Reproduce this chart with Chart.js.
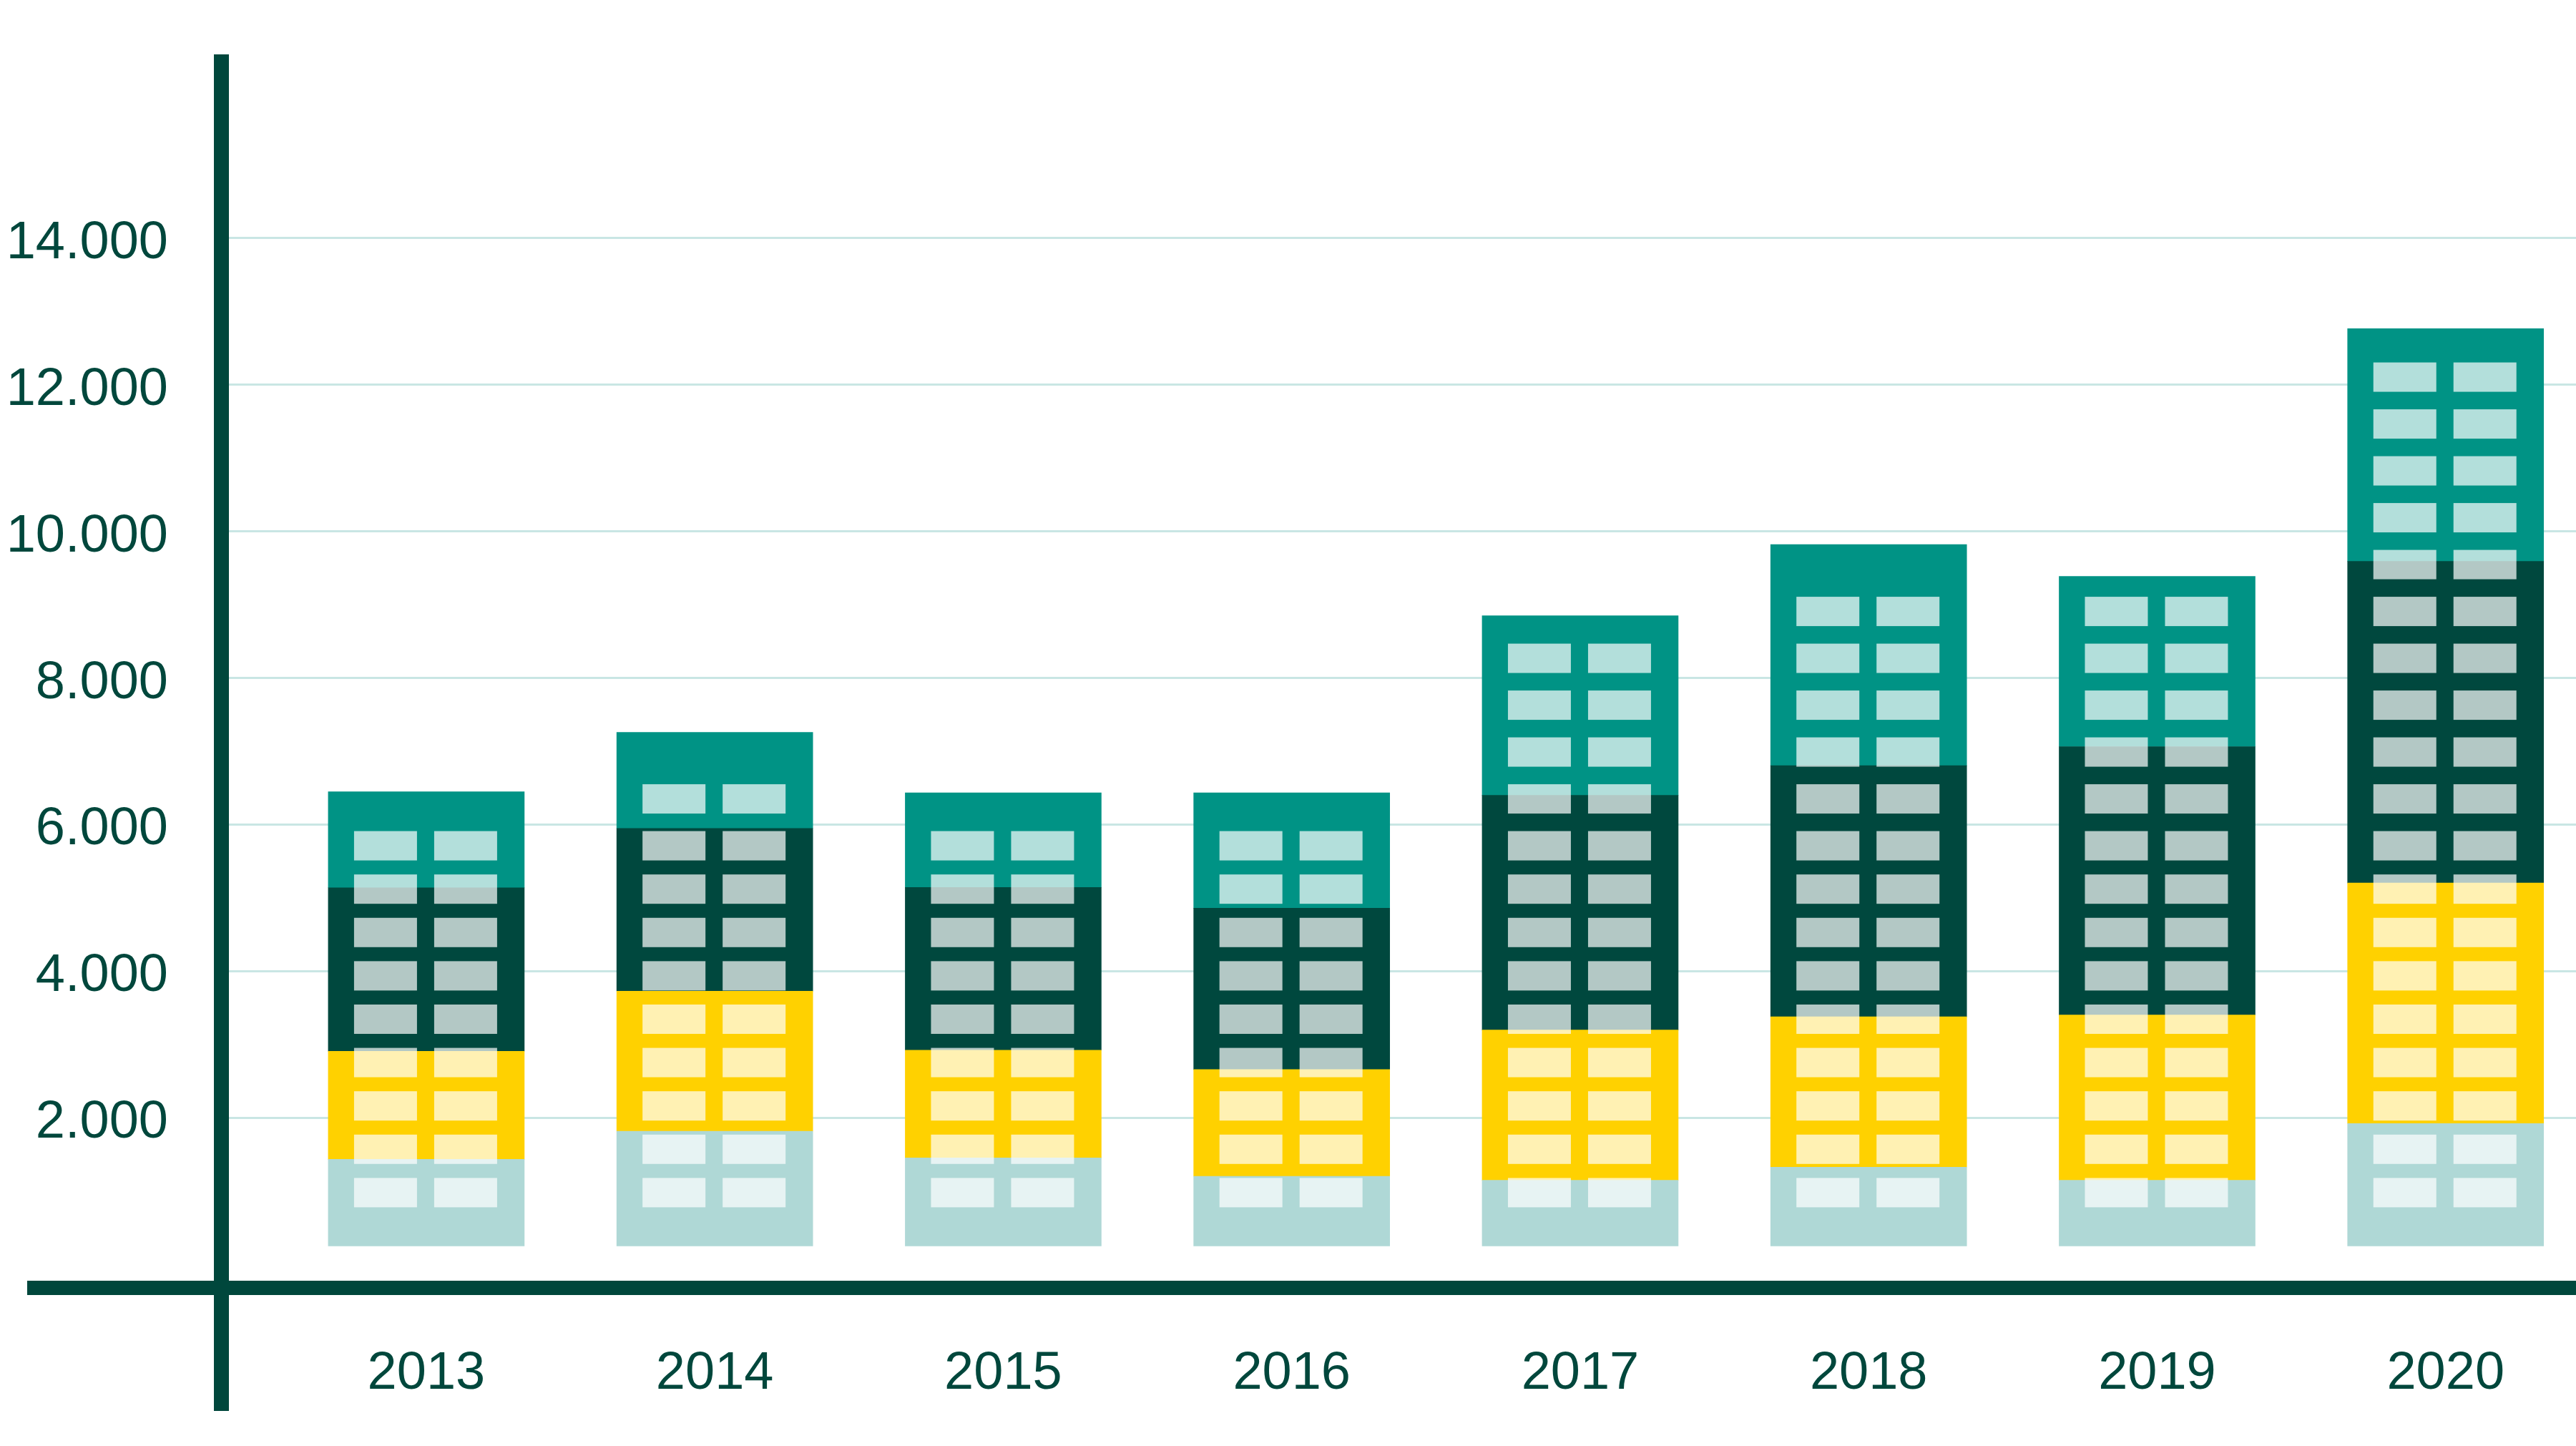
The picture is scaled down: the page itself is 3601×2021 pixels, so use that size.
<!DOCTYPE html>
<html>
<head>
<meta charset="utf-8">
<script src="https://cdn.jsdelivr.net/npm/chart.js@4.4.1/dist/chart.umd.min.js"></script>
<style>
  html, body { margin: 0; padding: 0; background: #ffffff; }
  #wrap { width: 3601px; height: 2021px; position: relative; }
</style>
</head>
<body>
<div id="wrap"><canvas id="chart"></canvas></div>
<script>
// --- data ---
const years = ['2013', '2014', '2015', '2016', '2017', '2018', '2019', '2020'];
// stacked bands, bottom to top
const band1 = [1430, 1815, 1450, 1200, 1145, 1325, 1145, 1920]; // light blue-green
const band2 = [1475, 1910, 1470, 1455, 2050, 2050, 2255, 3280]; // yellow
const band3 = [2230, 2220, 2220, 2200, 3200, 3425, 3660, 4385]; // dark green
const band4 = [1310, 1310, 1290, 1575, 2450, 3015, 2320, 3175]; // teal
const yTicks = [2000, 4000, 6000, 8000, 10000, 12000, 14000];

const barBase = 250; // the buildings stand a little above zero

const INK = '#00473c';
const bandColors = ['#afd8d6', '#ffd100', '#00483e', '#009385'];

// floating ranges built from the bands
const bands = [band1, band2, band3, band4];
const running = years.map(() => 0);
const datasets = bands.map((band, k) => {
    const data = band.map((v, i) => {
        const lo = k === 0 ? barBase : running[i];
        running[i] += v;
        return { x: i, y: [lo, running[i]] };
    });
    return {
        data: data,
        backgroundColor: bandColors[k],
        borderWidth: 0,
        barThickness: 274,
        grouped: false
    };
});

const fmt = v => String(v).replace(/\B(?=(\d{3})+(?!\d))/g, '.');

// windows on the buildings + the cross-shaped axes
const buildingPlugin = {
    id: 'buildings',
    afterDatasetsDraw(chart) {
        const ctx = chart.ctx;
        const topMeta = chart.getDatasetMeta(bands.length - 1);
        const baseMeta = chart.getDatasetMeta(0);
        ctx.save();
        ctx.fillStyle = 'rgba(255,255,255,0.7)';
        years.forEach((_, i) => {
            const topEl = topMeta.data[i];
            const baseEl = baseMeta.data[i];
            const barTop = topEl.y;
            const barBottom = baseEl.base;
            const left = topEl.x - 137;
            for (let r = 0; r < 40; r++) {
                const off = r <= 8 ? 60.6 * r : 60.6 * 8 + 65.5 * (r - 8);
                const wy = barBottom - 95 - off;
                if (wy < barTop + 15) break;
                ctx.fillRect(left + 36, wy, 88, 41);
                ctx.fillRect(left + 148, wy, 88, 41);
            }
        });
        ctx.restore();
    },
    afterDraw(chart) {
        const { ctx, chartArea } = chart;
        ctx.save();
        ctx.fillStyle = INK;
        // horizontal axis
        ctx.fillRect(38, chartArea.bottom - 10, chart.width - 38, 20);
        // vertical axis
        ctx.fillRect(chartArea.left - 11, chartArea.top, 21, 1972 - chartArea.top);
        ctx.restore();
    }
};

new Chart(document.getElementById('chart'), {
    type: 'bar',
    data: { datasets: datasets },
    plugins: [buildingPlugin],
    options: {
        responsive: true,
        maintainAspectRatio: false,
        animation: false,
        devicePixelRatio: 1,
        layout: { padding: { top: 76, left: 0, right: 0, bottom: 0 } },
        plugins: {
            legend: { display: false },
            tooltip: { enabled: false }
        },
        scales: {
            x: {
                type: 'linear',
                offset: false,
                min: -0.709,
                max: 7.452,
                grid: { display: false },
                border: { display: false },
                afterBuildTicks: scale => {
                    scale.ticks = years.map((_, i) => ({ value: i }));
                },
                afterFit: scale => {
                    scale.height = 221;
                    scale.paddingLeft = 0;
                    scale.paddingRight = 0;
                },
                ticks: {
                    padding: 68,
                    color: INK,
                    maxRotation: 0,
                    autoSkip: false,
                    font: { family: 'Liberation Sans', size: 74 },
                    callback: v => years[v]
                }
            },
            y: {
                min: -322,
                max: 16500,
                border: { display: false },
                grid: {
                    color: '#c9e6e4',
                    lineWidth: 3,
                    drawTicks: false
                },
                afterBuildTicks: scale => {
                    scale.ticks = yTicks.map(v => ({ value: v }));
                },
                afterFit: scale => {
                    scale.width = 310;
                    scale.paddingTop = 0;
                    scale.paddingBottom = 0;
                },
                ticks: {
                    padding: 75,
                    labelOffset: 8,
                    color: INK,
                    font: { family: 'Liberation Sans', size: 74 },
                    callback: v => fmt(v)
                }
            }
        }
    }
});
</script>
</body>
</html>
